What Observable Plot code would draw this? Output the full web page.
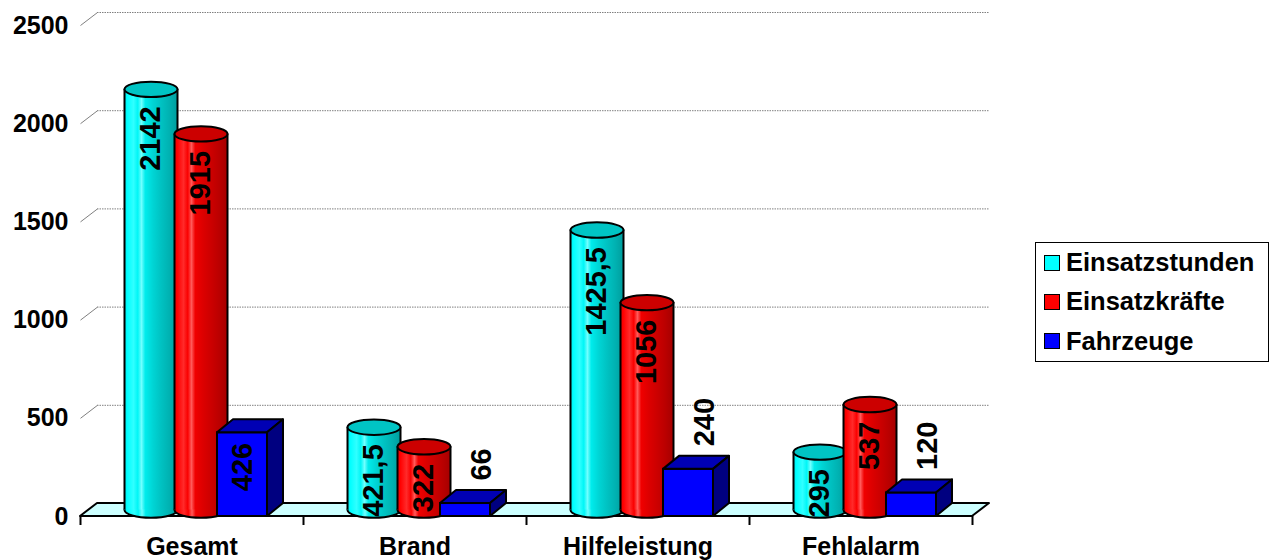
<!DOCTYPE html>
<html>
<head>
<meta charset="utf-8">
<script src="https://cdn.jsdelivr.net/npm/d3@7"></script>
<script src="https://cdn.jsdelivr.net/npm/@observablehq/plot@0.6"></script>
<style>
  body { margin: 0; background: #fff; font-family: "Liberation Sans", Arial, sans-serif; }
  #wrap { position: relative; width: 1279px; height: 560px; }
  #legend { position: absolute; left: 1035px; top: 242px; width: 232px; height: 118px;
            border: 1.5px solid #000; background: #fff; }
  .row { height: 39.3px; display: flex; align-items: center; font-weight: bold; font-size: 25.5px; color: #000; }
  .sw { width: 14px; height: 14px; border: 1.5px solid #000; margin-left: 8px; margin-right: 6px; }
</style>
</head>
<body>
<svg width="0" height="0" style="position:absolute">
  <defs>
    <linearGradient id="gCyan" x1="0" y1="0" x2="1" y2="0">
      <stop offset="0" stop-color="#00e0e0"/>
      <stop offset="0.06" stop-color="#00ffff"/>
      <stop offset="0.18" stop-color="#30ffff"/>
      <stop offset="0.26" stop-color="#00f6f6"/>
      <stop offset="0.33" stop-color="#70ffff"/>
      <stop offset="0.40" stop-color="#00ecec"/>
      <stop offset="0.55" stop-color="#00d4d4"/>
      <stop offset="0.70" stop-color="#00c2c2"/>
      <stop offset="0.85" stop-color="#00b2b2"/>
      <stop offset="1" stop-color="#009e9e"/>
    </linearGradient>
    <linearGradient id="gRed" x1="0" y1="0" x2="1" y2="0">
      <stop offset="0" stop-color="#e00000"/>
      <stop offset="0.06" stop-color="#ff0000"/>
      <stop offset="0.18" stop-color="#ff2a2a"/>
      <stop offset="0.26" stop-color="#fa0000"/>
      <stop offset="0.33" stop-color="#ff5a5a"/>
      <stop offset="0.40" stop-color="#f00000"/>
      <stop offset="0.55" stop-color="#dc0000"/>
      <stop offset="0.70" stop-color="#cc0000"/>
      <stop offset="0.85" stop-color="#bb0000"/>
      <stop offset="1" stop-color="#a60000"/>
    </linearGradient>
  </defs>
</svg>
<div id="wrap"><div id="legend"></div></div>
<script>
// ---- data ----
const categories = ["Gesamt", "Brand", "Hilfeleistung", "Fehlalarm"];
const seriesNames = ["Einsatzstunden", "Einsatzkräfte", "Fahrzeuge"];
const einsatzstunden = [2142, 421.5, 1425.5, 295];
const einsatzkraefte = [1915, 322, 1056, 537];
const fahrzeuge = [426, 66, 240, 120];
const yTicks = [0, 500, 1000, 1500, 2000, 2500];

// ---- styles / layout ----
const seriesColors = ["#00ffff", "#ff0000", "#0000ff"];
const W = 1279, H = 560, mL = 80, mR = 307, mT = 25, mB = 44;
const yMax = 2500;
const pxX = (W - mL - mR) / categories.length;
const pxY = (H - mT - mB) / yMax;
const ux = p => p / pxX;   // pixels -> x units
const uy = p => p / pxY;   // pixels -> y units
const fmt = v => String(v).replace(".", ",");
const axisFont = 25, valueFont = 29;

const ellipse = {
  draw(ctx, size) {
    const rx = Math.sqrt(size / Math.PI), ry = rx * 0.29, k = 0.5523;
    ctx.moveTo(rx, 0);
    ctx.bezierCurveTo(rx, ry * k, rx * k, ry, 0, ry);
    ctx.bezierCurveTo(-rx * k, ry, -rx, ry * k, -rx, 0);
    ctx.bezierCurveTo(-rx, -ry * k, -rx * k, -ry, 0, -ry);
    ctx.bezierCurveTo(rx * k, -ry, rx, -ry * k, rx, 0);
    ctx.closePath();
  }
};

const DX = 17, DY = 13;           // depth of the floor
const marks = [];

// back wall gridlines + left wall diagonals
marks.push(Plot.ruleY(yTicks.slice(1), {x1: 0, x2: categories.length, dx: DX, dy: -DY,
  stroke: "#808080", strokeWidth: 1, strokeDasharray: "1.5,1"}));
marks.push(Plot.link(yTicks.slice(1), {x1: 0, y1: d => d, x2: ux(DX), y2: d => d + uy(DY),
  stroke: "#808080", strokeWidth: 1}));

// axes
marks.push(Plot.axisX(d3.range(categories.length + 1), {tickSize: 9, tickFormat: () => "", strokeWidth: 2, label: null}));
marks.push(Plot.axisX(categories.map((c, i) => i + 0.5), {tickSize: 0, tickPadding: 21,
  tickFormat: d => categories[Math.floor(d)], fontSize: axisFont, fontWeight: "bold", label: null}));
marks.push(Plot.axisY(yTicks, {tickSize: 0, tickPadding: 12, tickFormat: d => String(d),
  fontSize: axisFont, fontWeight: "bold", label: null}));

// floor
marks.push(Plot.area([0, 1], {
  x1: t => t * ux(DX), y1: t => t * uy(DY),
  x2: t => categories.length + t * ux(DX), y2: t => t * uy(DY),
  fill: "#ccffff", stroke: "black", strokeWidth: 2, strokeLinejoin: "round"}));

// cylinders
const cylSeries = [einsatzstunden, einsatzkraefte];
const cylOffset = [-49.5, 0.5];
const cylFill = ["url(#gCyan)", "url(#gRed)"];
const cylTop = ["#00c4c4", "#cc0000"];
const cylHalf = 26.5;
const midDx = DX / 2, midDy = -DY / 2;
cylSeries.forEach((vals, s) => {
  const rows = vals.map((v, i) => ({i, v, cx: i + 0.5 + ux(cylOffset[s])}));
  const common = {dx: midDx, dy: midDy};
  marks.push(Plot.dot(rows, {x: "cx", y: 0, r: cylHalf, symbol: ellipse, fill: cylFill[s], stroke: "black", strokeWidth: 2, ...common}));
  marks.push(Plot.rect(rows, {x1: d => d.cx - ux(cylHalf), x2: d => d.cx + ux(cylHalf), y1: 0, y2: "v", fill: cylFill[s], ...common}));
  marks.push(Plot.ruleX(rows, {x: d => d.cx - ux(cylHalf), y1: 0, y2: "v", stroke: "black", strokeWidth: 2, ...common}));
  marks.push(Plot.ruleX(rows, {x: d => d.cx + ux(cylHalf), y1: 0, y2: "v", stroke: "black", strokeWidth: 2, ...common}));
  marks.push(Plot.dot(rows, {x: "cx", y: "v", r: cylHalf, symbol: ellipse, fill: cylTop[s], stroke: "black", strokeWidth: 2, ...common}));
  marks.push(Plot.text(rows, {x: "cx", y: "v", text: d => fmt(d.v), rotate: -90, textAnchor: "end", lineAnchor: "middle",
    dx: midDx, dy: midDy + 17, fontSize: valueFont, fontWeight: "bold", fill: "black"}));
});

// boxes (Fahrzeuge)
const boxHalf = 25, boxDX = 16;
const boxRows = fahrzeuge.map((v, i) => ({i, v, cx: i + 0.5 + ux(50.5)}));
const boxFaces = boxRows.flatMap(d => [0, 1].map(t => ({...d, t})));
marks.push(Plot.rect(boxRows, {x1: d => d.cx - ux(boxHalf), x2: d => d.cx + ux(boxHalf), y1: 0, y2: "v",
  fill: "#0000ff", stroke: "black", strokeWidth: 2}));
marks.push(Plot.area(boxFaces, {z: "i",
  x1: d => d.cx - ux(boxHalf) + d.t * ux(boxDX), y1: d => d.v + d.t * uy(DY),
  x2: d => d.cx + ux(boxHalf) + d.t * ux(boxDX), y2: d => d.v + d.t * uy(DY),
  fill: "#0000b4", stroke: "black", strokeWidth: 2, strokeLinejoin: "round"}));
marks.push(Plot.area(boxFaces, {z: "i",
  x1: d => d.cx + ux(boxHalf) + d.t * ux(boxDX), y1: d => d.t * uy(DY),
  x2: d => d.cx + ux(boxHalf) + d.t * ux(boxDX), y2: d => d.v + d.t * uy(DY),
  fill: "#000080", stroke: "black", strokeWidth: 2, strokeLinejoin: "round"}));
const fits = d => d.v * pxY > 52;
marks.push(Plot.text(boxRows.filter(fits), {x: "cx", y: "v", text: d => fmt(d.v), rotate: -90,
  textAnchor: "end", lineAnchor: "middle", dy: 10, fontSize: valueFont, fontWeight: "bold", fill: "black"}));
marks.push(Plot.text(boxRows.filter(d => !fits(d)), {x: "cx", y: "v", text: d => fmt(d.v), rotate: -90,
  textAnchor: "start", lineAnchor: "middle", dx: 16, dy: -DY - 10, fontSize: valueFont, fontWeight: "bold", fill: "black"}));

const chart = Plot.plot({
  width: W, height: H,
  marginLeft: mL, marginRight: mR, marginTop: mT, marginBottom: mB,
  x: {domain: [0, categories.length]},
  y: {domain: [0, yMax]},
  style: {fontFamily: '"Liberation Sans", Arial, sans-serif', fontWeight: "bold", fontSize: "24px",
          background: "white", color: "black", overflow: "visible"},
  marks
});
const wrap = document.getElementById("wrap");
wrap.insertBefore(chart, wrap.firstChild);

// legend
const legend = document.getElementById("legend");
seriesNames.forEach((name, s) => {
  const row = document.createElement("div");
  row.className = "row";
  const sw = document.createElement("div");
  sw.className = "sw";
  sw.style.background = seriesColors[s];
  const label = document.createElement("span");
  label.textContent = name;
  row.appendChild(sw);
  row.appendChild(label);
  legend.appendChild(row);
});
</script>
</body>
</html>
